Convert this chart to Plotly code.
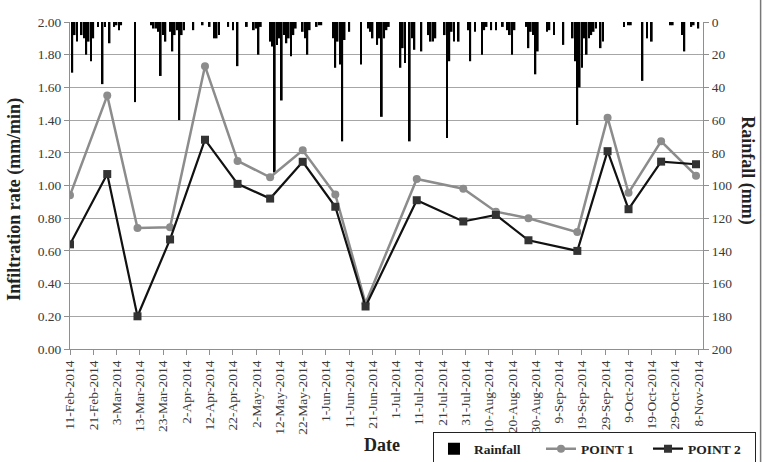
import pandas as pd
import plotly.graph_objects as go

# ---- data ----
start = pd.Timestamp("2014-02-11")

point_dates = ["2014-02-11", "2014-02-27", "2014-03-12", "2014-03-26", "2014-04-10",
               "2014-04-24", "2014-05-08", "2014-05-22", "2014-06-05", "2014-06-18",
               "2014-07-10", "2014-07-30", "2014-08-13", "2014-08-27", "2014-09-17",
               "2014-09-30", "2014-10-09", "2014-10-23", "2014-11-07"]
point1 = [0.94, 1.55, 0.74, 0.745, 1.73, 1.15, 1.05, 1.215, 0.945, 0.28,
          1.04, 0.98, 0.84, 0.80, 0.715, 1.415, 0.955, 1.27, 1.06]
point2 = [0.64, 1.07, 0.20, 0.67, 1.28, 1.01, 0.92, 1.145, 0.87, 0.26,
          0.91, 0.78, 0.82, 0.665, 0.60, 1.21, 0.855, 1.146, 1.13]

# rainfall: days after 11-Feb-2014 and daily rainfall (mm)
rain_day = [1, 2, 3, 5, 6, 7, 8, 9, 10, 12, 14, 15, 17, 19, 20, 21, 22, 28, 35, 36,
            37, 38, 39, 40, 41, 43, 44, 45, 46, 47, 48, 49, 53, 57, 60, 62, 63, 64, 68, 70,
            72, 76, 79, 80, 81, 82, 86, 87, 88, 89, 90, 91, 92, 93, 94, 95, 96, 97, 100, 101,
            102, 103, 106, 107, 108, 113, 114, 115, 116, 117, 118, 120, 125, 128, 129, 130, 132, 133, 134, 135,
            136, 137, 142, 143, 144, 146, 147, 148, 151, 154, 155, 156, 157, 161, 162, 163, 164, 165, 167, 171,
            172, 174, 177, 178, 179, 181, 183, 186, 188, 189, 190, 191, 196, 197, 198, 199, 200, 201, 205, 206,
            208, 212, 216, 217, 218, 219, 220, 221, 222, 223, 224, 225, 226, 228, 229, 238, 240, 241, 246, 248,
            250, 258, 259, 263, 264, 267, 268, 270]
rain_mm = [31, 8, 12, 8, 10, 20, 12, 24, 10, 3, 38, 3, 13, 3, 2, 5, 2, 49, 2, 4,
           4, 6, 33, 8, 12, 6, 18, 8, 5, 60, 8, 5, 5, 2, 3, 10, 10, 8, 3, 5,
           27, 3, 5, 4, 20, 3, 12, 15, 92, 14, 10, 48, 8, 13, 10, 21, 8, 4, 6, 10,
           20, 5, 3, 2, 2, 10, 28, 12, 26, 73, 11, 6, 26, 4, 6, 10, 14, 10, 58, 10,
           5, 3, 28, 16, 25, 73, 10, 17, 18, 8, 12, 12, 10, 8, 71, 24, 6, 12, 12, 5,
           24, 6, 20, 5, 3, 5, 5, 3, 5, 8, 20, 5, 3, 16, 6, 8, 32, 18, 6, 5,
           8, 14, 10, 24, 63, 40, 28, 10, 20, 10, 8, 6, 4, 16, 12, 3, 2, 2, 36, 10,
           12, 2, 2, 8, 18, 3, 2, 4]

tick_dates = pd.date_range("2014-02-11", "2014-11-08", freq="10D")

rain_dates = [start + pd.Timedelta(days=d) for d in rain_day]

FONT = "Liberation Serif, DejaVu Serif, serif"
GRAY = "#8c8c8c"
AX = "#8f8f8f"
TXT = "#3a3a3a"

fig = go.Figure()
fig.add_trace(go.Bar(x=rain_dates, y=rain_mm, name="Rainfall",
                     marker=dict(color="#000000", line=dict(width=0)), yaxis="y"))
fig.add_trace(go.Scatter(x=point_dates, y=point1, name="POINT 1", mode="lines+markers",
                         line=dict(color=GRAY, width=2.5),
                         marker=dict(symbol="circle", size=8, color=GRAY), yaxis="y2"))
fig.add_trace(go.Scatter(x=point_dates, y=point2, name="POINT 2", mode="lines+markers",
                         line=dict(color="#111111", width=2.2),
                         marker=dict(symbol="square", size=8, color="#333333"), yaxis="y2"))

tickfont = dict(family=FONT, size=13.5, color=TXT)

fig.update_layout(
    width=765, height=462,
    margin=dict(l=70, r=62, t=22, b=113, autoexpand=False),
    paper_bgcolor="white", plot_bgcolor="white",
    bargap=0.25,
    showlegend=True,
    font=dict(family=FONT, size=13.5, color=TXT),
    xaxis=dict(type="date", range=["2014-02-11", "2014-11-10"],
               tickvals=list(tick_dates), tickformat="%-d-%b-%Y", tickangle=-90,
               showgrid=False, showline=True, linecolor=AX, linewidth=1,
               ticks="outside", ticklen=5, tickcolor=AX, zeroline=False,
               tickfont=tickfont, automargin=False),
    yaxis=dict(side="right", range=[200, 0], dtick=20, showgrid=True, gridcolor="#a6a6a6", gridwidth=1,
               showline=True, linecolor=AX, ticks="outside", ticklen=5, tickcolor=AX, zeroline=False,
               tickfont=tickfont, automargin=False),
    yaxis2=dict(side="left", overlaying="y", range=[0, 2], dtick=0.2, tickformat=".2f",
                showgrid=False, showline=True, linecolor=AX, ticks="outside", ticklen=5, tickcolor=AX,
                zeroline=False, tickfont=tickfont, automargin=False),
    legend=dict(orientation="h", xref="container", yref="container",
                x=0.566, y=0.064, xanchor="left", yanchor="top",
                bordercolor="#222222", borderwidth=1, bgcolor="rgba(255,255,255,0)",
                font=dict(family=FONT, size=13.5, color="#222222", weight="bold"),
                entrywidth=62, traceorder="normal"),
    annotations=[
        dict(text="<b>Date</b>", x=0.493, y=-0.294, xref="paper", yref="paper",
             xanchor="center", yanchor="middle",
             showarrow=False, font=dict(family=FONT, size=18, color="#222222")),
        dict(text="<b>Infiltration rate (mm/min)</b>", x=-0.087, y=0.459, xref="paper", yref="paper",
             xanchor="center", yanchor="middle",
             textangle=-90, showarrow=False, font=dict(family=FONT, size=18, color="#222222")),
        dict(text="<b>Rainfall (mm)</b>", x=1.071, y=0.547, xref="paper", yref="paper",
             xanchor="center", yanchor="middle",
             textangle=90, showarrow=False, font=dict(family=FONT, size=18, color="#222222")),
    ],
    shapes=[dict(type="line", xref="paper", yref="paper", x0=1.091, x1=1.091, y0=-0.36, y1=1.08,
                 line=dict(color="#777777", width=1.5))],
)

fig.write_html("out.html")
